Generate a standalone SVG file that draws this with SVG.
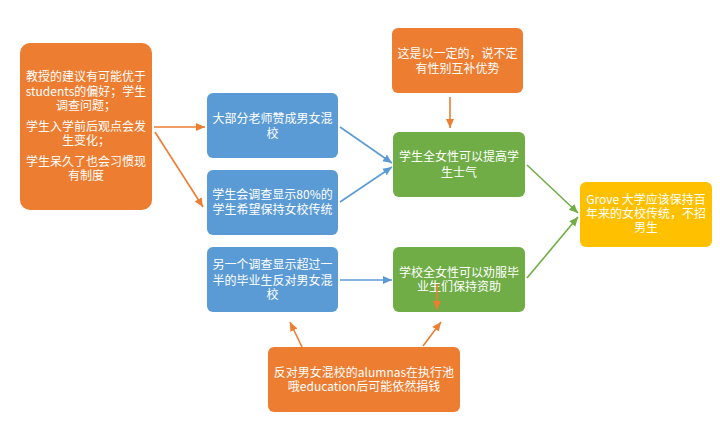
<svg xmlns="http://www.w3.org/2000/svg" width="720" height="430" viewBox="0 0 720 430">
<style>
text{font-family:"Noto Sans CJK SC","Liberation Sans",sans-serif;font-size:12px;fill:#fff;text-anchor:middle}
.o{fill:#ED7D31}.b{fill:#5B9BD5}.g{fill:#70AD47}.y{fill:#FFC000}
.lo{stroke:#ED7D31;stroke-width:1.6;fill:none;marker-end:url(#ao)}
.lb{stroke:#5B9BD5;stroke-width:1.6;fill:none;marker-end:url(#ab)}
.lg{stroke:#70AD47;stroke-width:1.6;fill:none;marker-end:url(#ag)}
</style>
<defs>
<marker id="ao" markerUnits="userSpaceOnUse" markerWidth="10" markerHeight="10" refX="9" refY="5" orient="auto"><path d="M0,1 L9,5 L0,9 Z" fill="#ED7D31"/></marker>
<marker id="ab" markerUnits="userSpaceOnUse" markerWidth="10" markerHeight="10" refX="9" refY="5" orient="auto"><path d="M0,1 L9,5 L0,9 Z" fill="#5B9BD5"/></marker>
<marker id="ag" markerUnits="userSpaceOnUse" markerWidth="10" markerHeight="10" refX="9" refY="5" orient="auto"><path d="M0,1 L9,5 L0,9 Z" fill="#70AD47"/></marker>
</defs>
<rect width="720" height="430" fill="#fff"/>
<g id="n_left"><rect class="o" x="20" y="43" width="132" height="167" rx="10"/>
<text x="86" y="81">教授的建议有可能优于</text><text x="86" y="96">students的偏好；学生</text><text x="86" y="110">调查问题；</text>
<text x="86" y="131">学生入学前后观点会发</text><text x="86" y="145">生变化；</text>
<text x="86" y="166">学生呆久了也会习惯现</text><text x="86" y="180">有制度</text></g>
<g id="n_b1"><rect class="b" x="207" y="93" width="131" height="65" rx="6"/>
<text x="272.5" y="123">大部分老师赞成男女混</text><text x="272.5" y="138">校</text></g>
<g id="n_b2"><rect class="b" x="207" y="170" width="131" height="65" rx="6"/>
<text x="272.5" y="199">学生会调查显示80%的</text><text x="272.5" y="214">学生希望保持女校传统</text></g>
<g id="n_b3"><rect class="b" x="207" y="247" width="131" height="65" rx="6"/>
<text x="272.5" y="269">另一个调查显示超过一</text><text x="272.5" y="285">半的毕业生反对男女混</text><text x="272.5" y="299">校</text></g>
<g id="n_top"><rect class="o" x="392" y="28" width="131" height="65" rx="6"/>
<text x="457.5" y="58">这是以一定的，说不定</text><text x="457.5" y="73">有性别互补优势</text></g>
<g id="n_g1"><rect class="g" x="393" y="132" width="132" height="65" rx="6"/>
<text x="459" y="161">学生全女性可以提高学</text><text x="459" y="177">生士气</text></g>
<g id="n_g2"><rect class="g" x="393" y="247" width="132" height="65" rx="6"/>
<text x="459" y="277">学校全女性可以劝服毕</text><text x="459" y="291">业生们保持资助</text></g>
<g id="n_y"><rect class="y" x="580" y="182" width="132" height="65" rx="6"/>
<text x="646" y="204">Grove 大学应该保持百</text><text x="646" y="218">年来的女校传统，不招</text><text x="646" y="232">男生</text></g>
<g id="n_bot"><rect class="o" x="268" y="347" width="192" height="65" rx="6"/>
<text x="364" y="377">反对男女混校的alumnas在执行池</text><text x="364" y="391">哦education后可能依然捐钱</text></g>
<g id="connectors">
<line class="lo" x1="154" y1="127" x2="205" y2="127"/>
<line class="lo" x1="155" y1="132" x2="203" y2="207"/>
<line class="lb" x1="340" y1="127" x2="392" y2="163"/>
<line class="lb" x1="340" y1="202" x2="392" y2="167"/>
<line class="lo" x1="450" y1="97" x2="450" y2="128"/>
<line class="lg" x1="527" y1="165" x2="578" y2="213"/>
<line class="lg" x1="527" y1="278" x2="578" y2="217"/>
<line class="lb" x1="340" y1="280" x2="392" y2="280"/>
<line class="lo" x1="302" y1="347" x2="290" y2="322"/>
<line class="lo" x1="423" y1="346" x2="441" y2="322"/>
<line class="lo" x1="437" y1="284" x2="437" y2="310"/>
</g>
</svg>
